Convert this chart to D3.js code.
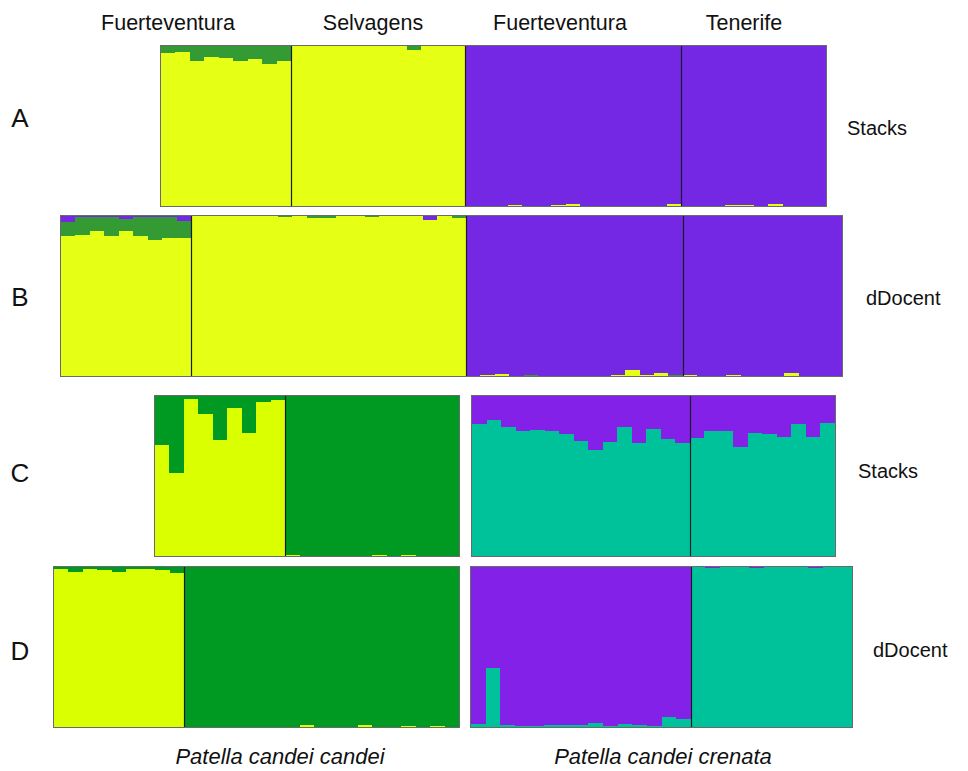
<!DOCTYPE html>
<html>
<head>
<meta charset="utf-8">
<script src="https://cdn.jsdelivr.net/npm/d3@7"></script>
<style>
  html, body { margin: 0; padding: 0; background: #ffffff; }
  svg { display: block; }
  text { font-family: "Liberation Sans", Arial, sans-serif; fill: #111; }
</style>
</head>
<body>
<svg id="chart" width="968" height="771"></svg>
<script>
// ---- Ancestry proportions (STRUCTURE-style Q values) ----
// Each cluster array holds one list per population; null marks the
// population's dominant cluster, which takes the remaining share.

const topLabels = ["Fuerteventura", "Selvagens", "Fuerteventura", "Tenerife"];
const rowLabels = ["A", "B", "C", "D"];
const methodLabels = ["Stacks", "dDocent", "Stacks", "dDocent"];
const taxonLabels = ["Patella candei candei", "Patella candei crenata"];

// Panel A (Stacks, K = 3): yellow, green, purple
const aSizes = [9, 12, 15, 10];
const aYellow = [null, null,
  [0, 0, 0, 0.006, 0, 0, 0.008, 0.014, 0, 0, 0, 0, 0, 0, 0.012],
  [0, 0, 0, 0.006, 0.006, 0, 0.012, 0, 0, 0]];
const aGreen = [
  [0.046, 0.035, 0.092, 0.07, 0.077, 0.096, 0.08, 0.115, 0.096],
  [0, 0, 0, 0, 0, 0, 0, 0, 0.025, 0, 0, 0],
  [0, 0, 0, 0, 0, 0, 0, 0, 0, 0, 0, 0, 0, 0, 0],
  [0, 0, 0, 0, 0, 0, 0, 0, 0, 0]];
const aPurple = [
  [0, 0, 0, 0, 0, 0, 0, 0, 0],
  [0, 0, 0, 0, 0, 0, 0, 0, 0, 0, 0, 0],
  null, null];

// Panel B (dDocent, K = 3): yellow, green, purple
const bSizes = [9, 19, 15, 11];
const bYellow = [null, null,
  [0, 0.006, 0.012, 0, 0, 0, 0, 0, 0, 0, 0.006, 0.035, 0.006, 0.018, 0],
  [0.006, 0, 0, 0.006, 0, 0, 0, 0.02, 0, 0, 0]];
const bGreen = [
  [0.09, 0.114, 0.087, 0.12, 0.072, 0.12, 0.145, 0.135, 0.11],
  [0, 0, 0, 0, 0, 0, 0.008, 0, 0.01, 0.01, 0, 0, 0.008, 0, 0, 0, 0, 0, 0.01],
  [0, 0, 0, 0, 0.006, 0, 0, 0, 0, 0, 0, 0, 0, 0, 0.006],
  [0, 0, 0, 0, 0, 0, 0, 0, 0, 0, 0]];
const bPurple = [
  [0.035, 0.005, 0.005, 0.005, 0.02, 0.005, 0.005, 0.005, 0.03],
  [0, 0, 0, 0, 0, 0, 0, 0, 0, 0, 0, 0, 0, 0, 0, 0, 0.025, 0, 0],
  null, null];

// Panel C left (Stacks, candei, K = 2): yellow, green
const cLSizes = [9, 12];
const cLYellow = [null,
  [0.008, 0, 0, 0, 0, 0, 0.008, 0, 0.008, 0, 0, 0]];
const cLGreen = [
  [0.306, 0.48, 0.02, 0.11, 0.275, 0.077, 0.23, 0.035, 0.025],
  null];

// Panel C right (Stacks, crenata, K = 2): teal, purple
const cRSizes = [15, 10];
const cRTeal = [null, null];
const cRPurple = [
  [0.177, 0.15, 0.196, 0.217, 0.21, 0.22, 0.237, 0.28, 0.3375, 0.285, 0.192, 0.296, 0.204, 0.27, 0.296],
  [0.265, 0.22, 0.22, 0.317, 0.23, 0.237, 0.254, 0.175, 0.254, 0.17]];

// Panel D left (dDocent, candei, K = 2): yellow, green
const dLSizes = [9, 19];
const dLYellow = [null,
  [0, 0, 0, 0, 0, 0, 0, 0, 0.015, 0, 0, 0, 0.01, 0, 0, 0.008, 0, 0.008, 0]];
const dLGreen = [
  [0.01, 0.03, 0.015, 0.02, 0.03, 0.015, 0.015, 0.02, 0.04],
  null];

// Panel D right (dDocent, crenata, K = 2): teal, purple
const dRSizes = [15, 11];
const dRTeal = [
  [0.02, 0.37, 0.01, 0.008, 0.005, 0.015, 0.01, 0.015, 0.022, 0.005, 0.02, 0.01, 0.008, 0.06, 0.05],
  null];
const dRPurple = [null,
  [0, 0.005, 0, 0, 0.005, 0, 0, 0, 0.005, 0, 0]];

// ---- Palettes ----
const paletteAB = { yellow: "#e5ff15", green: "#349a34", purple: "#7428e4" };
const paletteCD = { yellow: "#d9ff00", green: "#009a22", teal: "#00c29a", purple: "#8421e8" };

// Turn per-population cluster lists into one row per individual.
function buildRows(sizes, clusters) {
  const keys = clusters.map(c => c.key);
  const rows = [];
  sizes.forEach((n, g) => {
    for (let i = 0; i < n; i++) {
      const row = { id: rows.length, group: g };
      let used = 0, restKey = null;
      clusters.forEach(c => {
        const list = c.values[g];
        if (list === null) { restKey = c.key; }
        else { row[c.key] = list[i]; used += list[i]; }
      });
      if (restKey) row[restKey] = Math.max(0, 1 - used);
      rows.push(row);
    }
  });
  return { rows, keys };
}

const svg = d3.select("#chart");

function drawPanel(frame, sizes, clusters, colors) {
  const { rows, keys } = buildRows(sizes, clusters);
  const x = d3.scaleBand()
    .domain(rows.map(r => r.id))
    .range([frame.x0, frame.x1])
    .paddingInner(0).paddingOuter(0);
  const y = d3.scaleLinear().domain([0, 1]).range([frame.y1, frame.y0]).clamp(true);
  const series = d3.stack().keys(keys)(rows);

  // snap edges to whole pixels so neighbouring segments share borders exactly
  const xl = d => Math.round(x(d.data.id));
  const xr = d => Math.round(x(d.data.id) + x.bandwidth());
  const yt = d => Math.round(y(d[1]));
  const yb = d => Math.round(y(d[0]));

  const g = svg.append("g");
  g.selectAll("g.layer")
    .data(series)
    .join("g")
    .attr("class", "layer")
    .attr("fill", s => colors[s.key])
    .selectAll("rect")
    .data(s => s.filter(d => yb(d) - yt(d) > 0))
    .join("rect")
    .attr("x", xl)
    .attr("width", d => xr(d) - xl(d))
    .attr("y", yt)
    .attr("height", d => yb(d) - yt(d))
    .attr("shape-rendering", "crispEdges");

  // population dividers
  let acc = 0;
  sizes.slice(0, -1).forEach(n => {
    acc += n;
    const xv = Math.round(x(acc)) + 0.5;
    g.append("line")
      .attr("x1", xv).attr("x2", xv)
      .attr("y1", frame.y0).attr("y2", frame.y1)
      .attr("stroke", "#1a1a2a").attr("stroke-width", 1.2);
  });

  // frame
  g.append("rect")
    .attr("x", frame.x0 - 0.5).attr("y", frame.y0 - 0.5)
    .attr("width", frame.x1 - frame.x0 + 1).attr("height", frame.y1 - frame.y0 + 1)
    .attr("fill", "none").attr("stroke", "#6a6a6a").attr("stroke-width", 1);
}

// Panel A
drawPanel({ x0: 161, x1: 826, y0: 46, y1: 206 }, aSizes, [
  { key: "yellow", values: aYellow },
  { key: "green", values: aGreen },
  { key: "purple", values: aPurple }
], paletteAB);

// Panel B
drawPanel({ x0: 61, x1: 842, y0: 216, y1: 376 }, bSizes, [
  { key: "yellow", values: bYellow },
  { key: "green", values: bGreen },
  { key: "purple", values: bPurple }
], paletteAB);

// Panel C
drawPanel({ x0: 155, x1: 459, y0: 396, y1: 556 }, cLSizes, [
  { key: "yellow", values: cLYellow },
  { key: "green", values: cLGreen }
], paletteCD);
drawPanel({ x0: 472, x1: 835, y0: 396, y1: 556 }, cRSizes, [
  { key: "teal", values: cRTeal },
  { key: "purple", values: cRPurple }
], paletteCD);

// Panel D
drawPanel({ x0: 54, x1: 459, y0: 567, y1: 727 }, dLSizes, [
  { key: "yellow", values: dLYellow },
  { key: "green", values: dLGreen }
], paletteCD);
drawPanel({ x0: 471, x1: 852, y0: 567, y1: 727 }, dRSizes, [
  { key: "teal", values: dRTeal },
  { key: "purple", values: dRPurple }
], paletteCD);

// ---- Text ----
const topX = [168, 373, 560, 744];
svg.selectAll("text.top")
  .data(topLabels)
  .join("text")
  .attr("class", "top")
  .attr("x", (d, i) => topX[i]).attr("y", 30)
  .attr("text-anchor", "middle")
  .style("font-size", "21.5px")
  .text(d => d);

const rowY = [127, 306, 482, 660];
svg.selectAll("text.row")
  .data(rowLabels)
  .join("text")
  .attr("class", "row")
  .attr("x", 20).attr("y", (d, i) => rowY[i])
  .attr("text-anchor", "middle")
  .style("font-size", "26px")
  .text(d => d);

const methodPos = [[847, 135], [866, 305], [858, 478], [873, 657]];
svg.selectAll("text.method")
  .data(methodLabels)
  .join("text")
  .attr("class", "method")
  .attr("x", (d, i) => methodPos[i][0]).attr("y", (d, i) => methodPos[i][1])
  .style("font-size", "20px")
  .text(d => d);

const taxonX = [280, 663];
svg.selectAll("text.taxon")
  .data(taxonLabels)
  .join("text")
  .attr("class", "taxon")
  .attr("x", (d, i) => taxonX[i]).attr("y", 764)
  .attr("text-anchor", "middle")
  .style("font-size", "22px")
  .style("font-style", "italic")
  .text(d => d);
</script>
</body>
</html>
